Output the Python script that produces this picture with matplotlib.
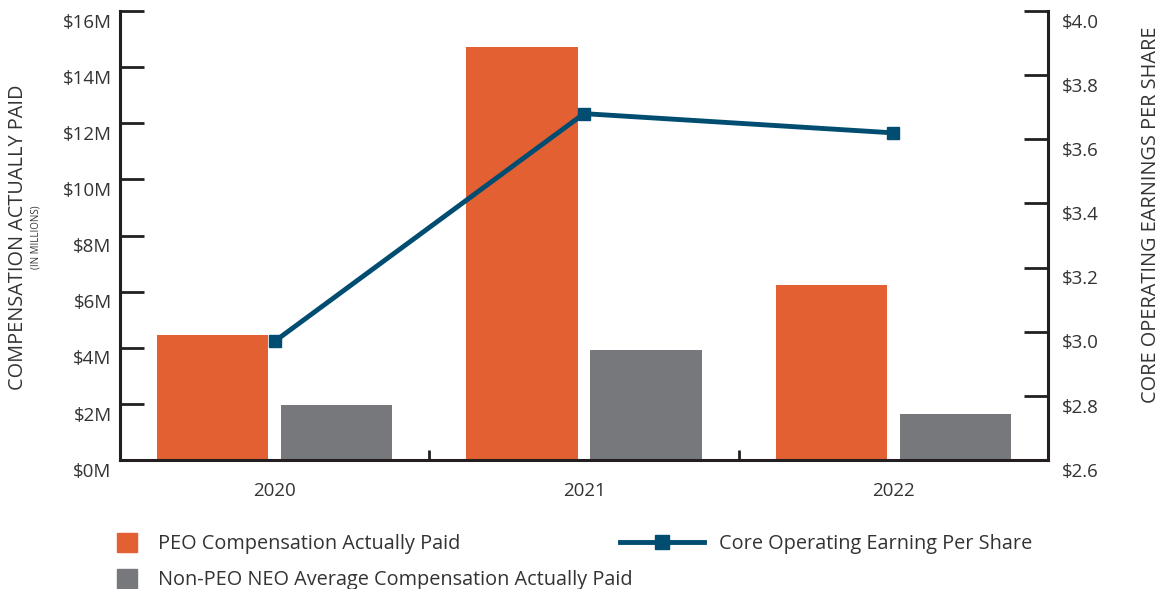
import numpy as np
import matplotlib.pyplot as plt
from matplotlib.transforms import ScaledTranslation

years = ["2020", "2021", "2022"]
peo_cap = [4.45, 14.7, 6.25]          # $M
neo_cap = [1.95, 3.92, 1.63]          # $M
core_eps = [2.97, 3.68, 3.62]         # $ per share

ORANGE = "#E36033"
GREY = "#77787B"
NAVY = "#004D71"
TEXT = "#333333"
SPINE = "#231F20"

plt.rcParams["font.family"] = ["Open Sans", "DejaVu Sans"]
plt.rcParams["text.color"] = TEXT

fig = plt.figure(figsize=(11.65, 5.89), dpi=100)
ax = fig.add_axes([120 / 1165, 1 - 460 / 589, (1048 - 120) / 1165, (460 - 11) / 589])
ax2 = ax.twinx()

x = np.arange(len(years))
w = 0.36
ax.bar(x - 0.2, peo_cap, width=w, color=ORANGE, zorder=2)
ax.bar(x + 0.2, neo_cap, width=w, color=GREY, zorder=2)

ax2.plot(x, core_eps, color=NAVY, linewidth=3.5, marker="s", markersize=9, zorder=5)

# --- axes limits / ticks ---
ax.set_xlim(-0.5, 2.5)
ax.set_ylim(0, 16)
ax2.set_ylim(2.6, 4.0)

ax.set_yticks(np.arange(0, 17, 2))
ax.set_yticklabels([f"${v}M" for v in range(0, 17, 2)])
ax2.set_yticks(np.round(np.arange(2.6, 4.01, 0.2), 1))
ax2.set_yticklabels([f"${v:.1f}" for v in np.arange(2.6, 4.01, 0.2)])

ax.set_xticks(x)
ax.set_xticklabels(years)
ax.set_xticks([0.5, 1.5], minor=True)
ax.tick_params(axis="x", which="major", length=0, pad=16, labelsize=13.5, labelcolor=TEXT)
ax.tick_params(axis="x", which="minor", direction="in", length=7, width=2, color=SPINE)
ax.tick_params(axis="y", direction="in", length=17, width=2, color=SPINE, pad=6,
               labelsize=13.5, labelcolor=TEXT)
ax2.tick_params(axis="y", direction="in", length=17, width=2, color=SPINE, pad=10,
                labelsize=13.5, labelcolor=TEXT)

# tick labels sit a little below their ticks
shift = ScaledTranslation(0, -7 / 72, fig.dpi_scale_trans)
for lab in ax.get_yticklabels() + ax2.get_yticklabels():
    lab.set_transform(lab.get_transform() + shift)

for a in (ax, ax2):
    a.spines["top"].set_visible(False)
    for s in ("left", "right", "bottom"):
        a.spines[s].set_linewidth(2.2)
        a.spines[s].set_color(SPINE)
    a.set_facecolor("none")
ax.spines["right"].set_visible(False)
ax2.spines["left"].set_visible(False)
ax2.spines["bottom"].set_visible(False)
ax.set_zorder(1)
ax2.set_zorder(2)

# --- axis titles ---
fig.text(18 / 1165, 1 - 237 / 589, "COMPENSATION ACTUALLY PAID", rotation=90,
         ha="center", va="center", fontsize=14.3)
fig.text(36 / 1165, 1 - 237 / 589, "(IN MILLIONS)", rotation=90,
         ha="center", va="center", fontsize=7)
fig.text(1151 / 1165, 1 - 215 / 589, "CORE OPERATING EARNINGS PER SHARE", rotation=90,
         ha="center", va="center", fontsize=14.3)

# --- legends ---
h_peo = plt.Rectangle((0, 0), 1, 1, color=ORANGE)
h_neo = plt.Rectangle((0, 0), 1, 1, color=GREY)
leg1 = fig.legend([h_peo, h_neo],
                  ["PEO Compensation Actually Paid",
                   "Non-PEO NEO Average Compensation Actually Paid"],
                  loc="upper left", bbox_to_anchor=(117 / 1165, 1 - 533 / 589),
                  frameon=False, fontsize=14.3, handlelength=1.0, handleheight=1.1,
                  handletextpad=1.05, labelspacing=0.72, borderpad=0, borderaxespad=0)
h_eps = plt.Line2D([], [], color=NAVY, linewidth=3.5, marker="s", markersize=10)
leg2 = fig.legend([h_eps], ["Core Operating Earning Per Share"],
                  loc="upper left", bbox_to_anchor=(620 / 1165, 1 - 534 / 589),
                  frameon=False, fontsize=14.3, handlelength=4.25, handletextpad=0.75,
                  borderpad=0, borderaxespad=0)

fig.savefig("out.png", dpi=100)
